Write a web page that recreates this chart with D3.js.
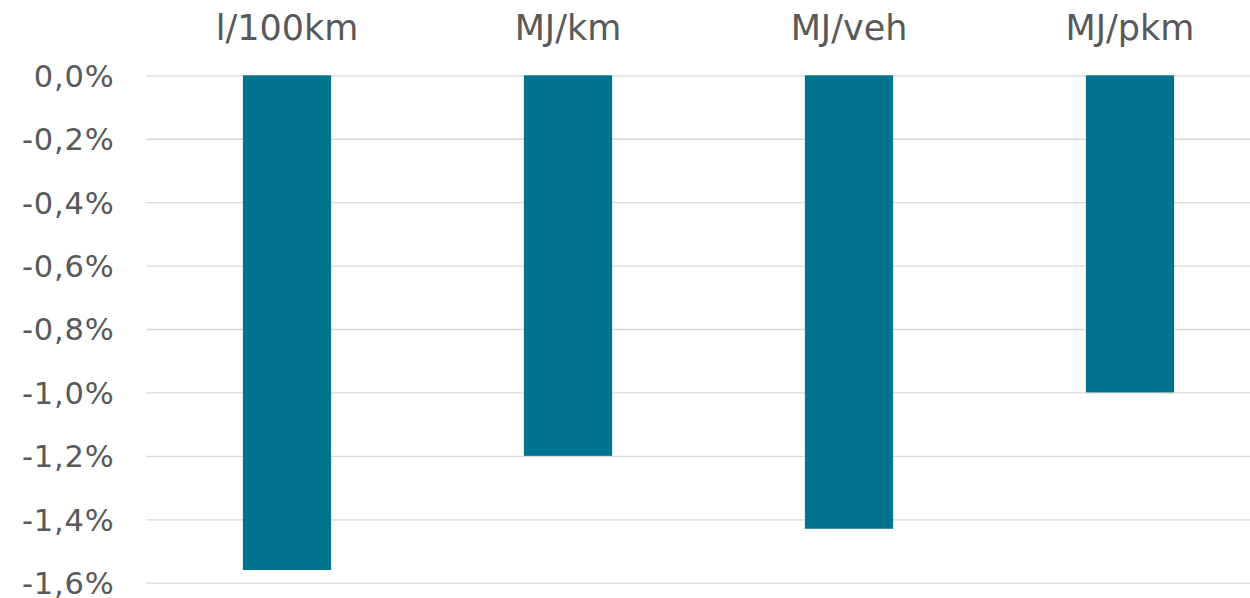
<!DOCTYPE html>
<html>
<head>
<meta charset="utf-8">
<script src="https://cdn.jsdelivr.net/npm/d3@7"></script>
<style>
  html, body { margin: 0; padding: 0; background: #ffffff; }
  svg { display: block; }
</style>
</head>
<body>
<svg id="chart" width="1250" height="598"></svg>
<script>
// Change in energy consumption per unit
const categories = ["l/100km", "MJ/km", "MJ/veh", "MJ/pkm"];
const values = [-1.56, -1.20, -1.43, -1.00];
const yTicks = [0, -0.2, -0.4, -0.6, -0.8, -1.0, -1.2, -1.4, -1.6];

const svg = d3.select("#chart");
const fontFamily = "'DejaVu Sans', Verdana, sans-serif";
const textColor = "#595959";

const x = d3.scaleBand()
  .domain(categories)
  .range([146.5, 1270.5])
  .paddingInner(0.686)
  .paddingOuter(0.343);

const y = d3.scaleLinear()
  .domain([0, -1.6])
  .range([75.3, 582.7]);

const fmt = v => (v === 0 ? "0,0" : d3.format(".1f")(v).replace(".", ",").replace("−", "-")) + "%";

// Horizontal gridlines and left axis labels
const yAxis = d3.axisLeft(y)
  .tickValues(yTicks)
  .tickSize(-(1270.5 - 146.5))
  .tickPadding(32)
  .tickFormat(fmt);

const gy = svg.append("g")
  .attr("transform", "translate(146.5,0)")
  .call(yAxis);
gy.select(".domain").remove();
gy.selectAll(".tick line")
  .attr("stroke", "#d9d9d9")
  .attr("stroke-width", 1.3);
gy.selectAll(".tick text")
  .attr("fill", textColor)
  .attr("font-family", fontFamily)
  .attr("font-size", 30.5)
  .attr("letter-spacing", 0.8)
  .attr("dy", "0.36em");

// Bars
svg.append("g")
  .selectAll("rect")
  .data(categories.map((c, i) => ({ c, v: values[i] })))
  .join("rect")
  .attr("x", d => x(d.c))
  .attr("width", x.bandwidth())
  .attr("y", y(0))
  .attr("height", d => y(d.v) - y(0))
  .attr("fill", "#00748F");

// Category labels along the top
const xAxis = d3.axisTop(x).tickSize(0).tickPadding(0);
const gx = svg.append("g")
  .attr("transform", "translate(0,39.5)")
  .call(xAxis);
gx.select(".domain").remove();
gx.selectAll(".tick text")
  .attr("fill", textColor)
  .attr("font-family", fontFamily)
  .attr("font-size", 35)
  .attr("dy", 0);
</script>
</body>
</html>
